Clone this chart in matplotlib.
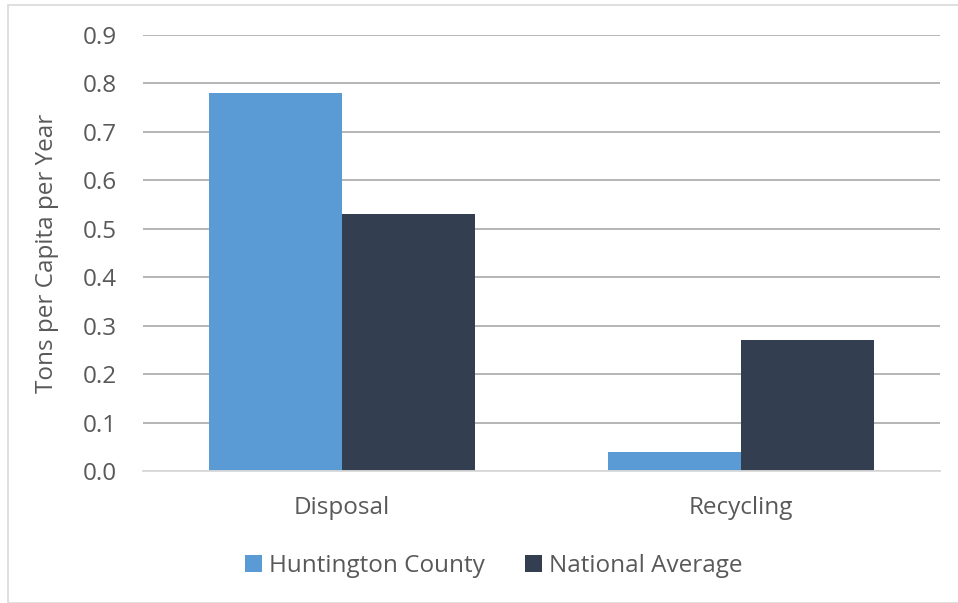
"""Waste per capita: Huntington County vs. national average (bar chart)."""

import matplotlib
matplotlib.use("Agg")
import matplotlib.pyplot as plt
import numpy as np
from matplotlib.patches import Rectangle

CATEGORIES = ["Disposal", "Recycling"]
SERIES_NAMES = ["Huntington County", "National Average"]
HUNTINGTON = [0.78, 0.04]
NATIONAL = [0.53, 0.27]
Y_TICKS = [0.0, 0.1, 0.2, 0.3, 0.4, 0.5, 0.6, 0.7, 0.8, 0.9]

COLORS = ["#5B9BD5", "#333F50"]
TEXT = "#595959"
FS = 17.5

plt.rcParams["font.family"] = ["Open Sans", "DejaVu Sans"]

fig = plt.figure(figsize=(9.58, 6.03), dpi=100)
ax = fig.add_axes([143 / 958, 1 - 471 / 603, (940 - 143) / 958, (471 - 35) / 603])

# light frame around the whole chart
fig.patches.append(Rectangle((8 / 958, 0), 1.0, 1 - 5 / 603, transform=fig.transFigure,
                             fill=False, edgecolor="#D9D9D9", linewidth=1.2))

x = np.arange(len(CATEGORIES))
w = 0.334
ax.bar(x - w / 2, HUNTINGTON, w, color=COLORS[0], label=SERIES_NAMES[0], zorder=3)
ax.bar(x + w / 2, NATIONAL, w, color=COLORS[1], label=SERIES_NAMES[1], zorder=3)

ax.set_xlim(-0.5, 1.5)
ax.set_ylim(0, 0.9)
ax.set_yticks(Y_TICKS)
ax.set_yticklabels([f"{t:.1f}" for t in Y_TICKS])
ax.set_xticks(x)
ax.set_xticklabels(CATEGORIES)

ax.grid(True, axis="y", color="#B0B0B0", linewidth=1.3, zorder=0)
for s in ("top", "right", "left"):
    ax.spines[s].set_visible(False)
ax.spines["bottom"].set_color("#D9D9D9")
ax.spines["bottom"].set_linewidth(1.3)
ax.spines["bottom"].set_zorder(4)

ax.tick_params(axis="both", length=0, colors=TEXT, labelsize=FS)
ax.tick_params(axis="y", pad=19)
ax.tick_params(axis="x", pad=18)
ax.set_ylabel("Tons per Capita per Year", color=TEXT, fontsize=FS, labelpad=17)

ax.legend(loc="center", bbox_to_anchor=(0.44, -0.218), ncol=2, frameon=False,
          fontsize=FS, labelcolor=TEXT, handlelength=0.7, handleheight=0.7,
          handletextpad=0.3, columnspacing=1.65)

fig.savefig("out.png", dpi=100)
